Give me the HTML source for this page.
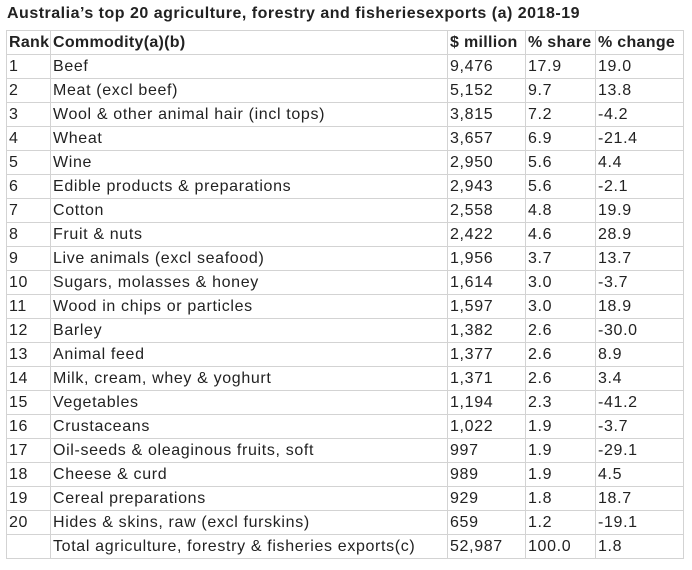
<!DOCTYPE html>
<html><head><style>
body{margin:0;background:#fff;font-family:"Liberation Sans",sans-serif;color:#222;}
.t{position:absolute;left:7px;top:5px;font-weight:bold;font-size:16px;letter-spacing:0.5px;}
table{position:absolute;left:6px;top:30px;border-collapse:collapse;font-size:16px;letter-spacing:0.65px;}
td{border:1px solid #d3d3d3;height:23px;padding:0 0 0 2px;line-height:23px;white-space:nowrap;vertical-align:middle;overflow:hidden;}
tr.h td{font-weight:bold;letter-spacing:0.3px;}
</style></head><body>
<div class="t">Australia’s top 20 agriculture, forestry and fisheriesexports (a) 2018-19</div>
<table style="table-layout:fixed;width:677px">
<colgroup><col style="width:44px"><col style="width:397px"><col style="width:78px"><col style="width:70px"><col style="width:88px"></colgroup>
<tr class="h"><td>Rank</td><td>Commodity(a)(b)</td><td>$ million</td><td>% share</td><td>% change</td></tr>
<tr><td>1</td><td>Beef</td><td>9,476</td><td>17.9</td><td>19.0</td></tr>
<tr><td>2</td><td>Meat (excl beef)</td><td>5,152</td><td>9.7</td><td>13.8</td></tr>
<tr><td>3</td><td>Wool &amp; other animal hair (incl tops)</td><td>3,815</td><td>7.2</td><td>-4.2</td></tr>
<tr><td>4</td><td>Wheat</td><td>3,657</td><td>6.9</td><td>-21.4</td></tr>
<tr><td>5</td><td>Wine</td><td>2,950</td><td>5.6</td><td>4.4</td></tr>
<tr><td>6</td><td>Edible products &amp; preparations</td><td>2,943</td><td>5.6</td><td>-2.1</td></tr>
<tr><td>7</td><td>Cotton</td><td>2,558</td><td>4.8</td><td>19.9</td></tr>
<tr><td>8</td><td>Fruit &amp; nuts</td><td>2,422</td><td>4.6</td><td>28.9</td></tr>
<tr><td>9</td><td>Live animals (excl seafood)</td><td>1,956</td><td>3.7</td><td>13.7</td></tr>
<tr><td>10</td><td>Sugars, molasses &amp; honey</td><td>1,614</td><td>3.0</td><td>-3.7</td></tr>
<tr><td>11</td><td>Wood in chips or particles</td><td>1,597</td><td>3.0</td><td>18.9</td></tr>
<tr><td>12</td><td>Barley</td><td>1,382</td><td>2.6</td><td>-30.0</td></tr>
<tr><td>13</td><td>Animal feed</td><td>1,377</td><td>2.6</td><td>8.9</td></tr>
<tr><td>14</td><td>Milk, cream, whey &amp; yoghurt</td><td>1,371</td><td>2.6</td><td>3.4</td></tr>
<tr><td>15</td><td>Vegetables</td><td>1,194</td><td>2.3</td><td>-41.2</td></tr>
<tr><td>16</td><td>Crustaceans</td><td>1,022</td><td>1.9</td><td>-3.7</td></tr>
<tr><td>17</td><td>Oil-seeds &amp; oleaginous fruits, soft</td><td>997</td><td>1.9</td><td>-29.1</td></tr>
<tr><td>18</td><td>Cheese &amp; curd</td><td>989</td><td>1.9</td><td>4.5</td></tr>
<tr><td>19</td><td>Cereal preparations</td><td>929</td><td>1.8</td><td>18.7</td></tr>
<tr><td>20</td><td>Hides &amp; skins, raw (excl furskins)</td><td>659</td><td>1.2</td><td>-19.1</td></tr>
<tr><td></td><td>Total agriculture, forestry &amp; fisheries exports(c)</td><td>52,987</td><td>100.0</td><td>1.8</td></tr>
</table>
</body></html>
